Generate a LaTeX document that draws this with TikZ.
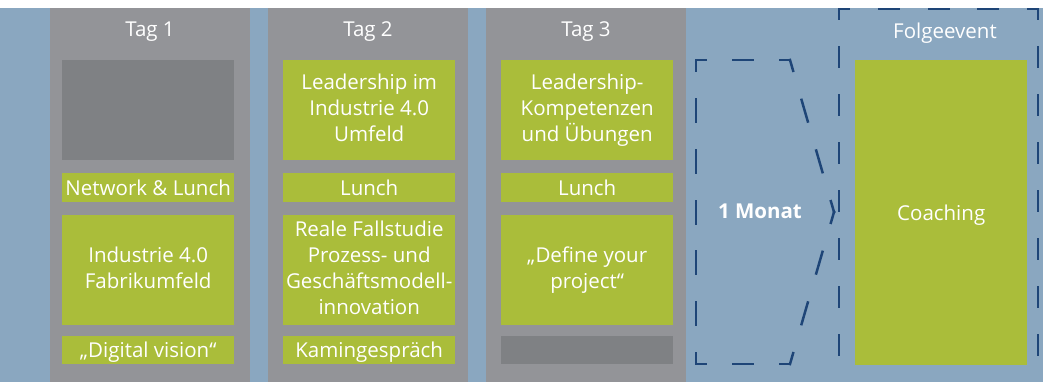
\documentclass[tikz,border=0pt]{standalone}
\usepackage{fontspec}
\setmainfont{Open Sans}
\definecolor{bgblue}{HTML}{8AA7C0}
\definecolor{daygray}{HTML}{939498}
\definecolor{blankgray}{HTML}{7F8184}
\definecolor{itemgreen}{HTML}{AABD3A}
\definecolor{dashblue}{HTML}{1E4577}
\begin{document}
\begin{tikzpicture}[x=1pt,y=-1pt,
    day/.style={fill=daygray,minimum width=200pt,minimum height=374pt,inner sep=0pt,anchor=north west},
    head/.style={text=white,inner sep=0pt,font=\fontsize{20.5}{24}\selectfont},
    item/.style={fill=itemgreen,text=white,minimum width=172pt,inner sep=0pt,anchor=north west,
      align=center,font=\fontsize{20.5}{26}\selectfont,
      execute at begin node={\rule{0pt}{20pt}},execute at end node={\rule[-5pt]{0pt}{5pt}}},
    blank/.style={fill=blankgray,minimum width=172pt,inner sep=0pt,anchor=north west},
    frame/.style={draw=dashblue,line width=2.5pt,line cap=rect}]
  \useasboundingbox (0,0) rectangle (1043,382);
  \fill[bgblue] (0,8) rectangle (1043,382);
  \node[day] (day1) at (50,8) {};
  \node[day] (day2) at (268,8) {};
  \node[day] (day3) at (486,8) {};
  \node[head] (tag1) at (150,32) {Tag 1};
  \node[head] (tag2) at (368,32) {Tag 2};
  \node[head] (tag3) at (586,32) {Tag 3};
  \node[head] (folge) at (945,33) {Folgeevent};
  \node[blank,minimum height=100pt] (t1a) at (62,60) {};
  \node[item,minimum height=29pt] (t1b) at (62,173) {Network \& Lunch};
  \node[item,minimum height=110pt] (t1c) at (62,215) {Industrie 4.0\\Fabrikumfeld};
  \node[item,minimum height=28pt] (t1d) at (62,336) {„Digital vision“};
  \node[item,minimum height=100pt] (t2a) at (283,60) {Leadership im\\Industrie 4.0\\Umfeld};
  \node[item,minimum height=29pt] (t2b) at (283,173) {Lunch};
  \node[item,minimum height=110pt] (t2c) at (283,215) {Reale Fallstudie\\Prozess- und\\Geschäftsmodell-\\innovation};
  \node[item,minimum height=28pt] (t2d) at (283,336) {Kamingespräch};
  \node[item,minimum height=100pt] (t3a) at (501,60) {Leadership-\\Kompetenzen\\und Übungen};
  \node[item,minimum height=29pt] (t3b) at (501,173) {Lunch};
  \node[item,minimum height=110pt] (t3c) at (501,215) {„Define your\\project“};
  \node[blank,minimum height=28pt] (t3d) at (501,336) {};
  \node[item,minimum height=305pt] (coach) at (855,60) {Coaching};
  \node[head,font=\fontsize{20.5}{24}\selectfont\bfseries] (monat) at (760,211) {1 Monat};
  \draw[frame,dash pattern=on 22.5pt off 28.17pt,dash phase=11.25pt] (696,60) -- (696,364);
  \draw[frame,dash pattern=on 19.5pt off 27.5pt,dash phase=9.75pt] (696,60) -- (790,60);
  \draw[frame,dash pattern=on 19.5pt off 27.5pt,dash phase=9.75pt] (696,364) -- (790,364);
  \draw[frame,dash pattern=on 22.5pt off 30.25pt,dash phase=11.25pt] (790,60) -- (834,212);
  \draw[frame,dash pattern=on 22.5pt off 30.25pt,dash phase=11.25pt] (790,364) -- (834,212);
  \begin{scope}
    \clip (0,8) rectangle (1043,382);
    \draw[frame,dash pattern=on 19.5pt off 28.5pt,dash phase=9.75pt] (839,9) -- (839,400);
    \draw[frame,dash pattern=on 19.5pt off 30.25pt,dash phase=9.75pt] (839,9) -- (1038,9);
    \draw[frame,dash pattern=on 19.5pt off 28.5pt,dash phase=9.75pt] (1038,9) -- (1038,400);
  \end{scope}
\end{tikzpicture}
\end{document}
